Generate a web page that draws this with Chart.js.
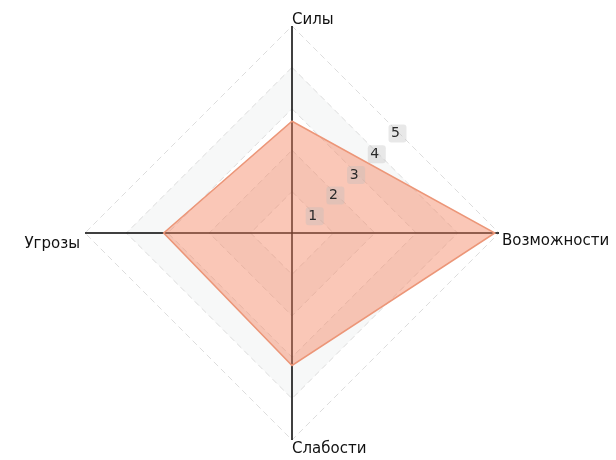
<!DOCTYPE html>
<html>
<head>
<meta charset="utf-8">
<script src="https://cdn.jsdelivr.net/npm/chart.js@4.4.1/dist/chart.umd.min.js"></script>
<style>
  html, body { margin: 0; padding: 0; background: #fff; }
  #wrap { width: 616px; height: 460px; position: relative; }
</style>
</head>
<body>
<div id="wrap"><canvas id="swot"></canvas></div>
<script>
/*
    ДАННЫЕ
*/
const categories = ['Силы', 'Возможности', 'Слабости', 'Угрозы'];
const values = [2.7, 4.9, 3.2, 3.1];
const scaleMin = 0;
const scaleMax = 5;
const bandValues = [1, 2, 3, 4, 5];

/*
    ПЛАГИНЫ
*/
// полосы сетки (через одну) под линиями
const bandsPlugin = {
  id: 'bands',
  beforeDraw(chart) {
    const r = chart.scales.r;
    const ctx = chart.ctx;
    const n = chart.data.labels.length;
    const diamond = (v) => {
      const dist = r.getDistanceFromCenterForValue(v);
      ctx.beginPath();
      for (let i = 0; i < n; i++) {
        const p = r.getPointPosition(i, dist);
        i ? ctx.lineTo(p.x, p.y) : ctx.moveTo(p.x, p.y);
      }
      ctx.closePath();
    };
    ctx.save();
    for (let k = bandValues.length - 1; k >= 0; k--) {
      diamond(bandValues[k]);
      ctx.fillStyle = k % 2 === 1 ? '#f7f8f8' : '#ffffff';
      ctx.fill();
    }
    ctx.restore();
  }
};

// подписи осей и значения шкалы
const labelsPlugin = {
  id: 'swotLabels',
  afterDraw(chart) {
    const r = chart.scales.r;
    const ctx = chart.ctx;
    const outer = r.getDistanceFromCenterForValue(scaleMax);
    ctx.save();
    ctx.font = '15px "DejaVu Sans"';
    ctx.fillStyle = '#111';
    chart.data.labels.forEach((txt, i) => {
      const p = r.getPointPosition(i, outer);
      let x = p.x, y = p.y;
      if (y < r.yCenter - 1) {
        ctx.textAlign = 'left';
        ctx.textBaseline = 'bottom';
        y += 2;
      } else if (y > r.yCenter + 1) {
        ctx.textAlign = 'left';
        ctx.textBaseline = 'top';
        y += 2;
      } else if (x > r.xCenter) {
        ctx.textAlign = 'left';
        ctx.textBaseline = 'top';
        x += 3; y += 1;
      } else {
        ctx.textAlign = 'right';
        ctx.textBaseline = 'top';
        x -= 5; y += 4;
      }
      ctx.fillText(txt, x, y);
    });

    // значения 1..5 по диагонали (середины рёбер ромба)
    ctx.font = '14px "DejaVu Sans"';
    ctx.textAlign = 'center';
    ctx.textBaseline = 'middle';
    r.ticks.forEach((t) => {
      if (t.value === scaleMin) return;
      const dist = r.getDistanceFromCenterForValue(t.value);
      const a = r.getPointPosition(0, dist);
      const b = r.getPointPosition(1, dist);
      const mx = (a.x + b.x) / 2;
      const my = (a.y + b.y) / 2 + 4;
      ctx.fillStyle = 'rgba(190,190,190,0.35)';
      ctx.beginPath();
      ctx.roundRect(mx - 7, my - 9, 18, 18, 3);
      ctx.fill();
      ctx.fillStyle = '#2a2a2a';
      ctx.fillText(t.label, mx, my);
    });
    ctx.restore();
  }
};

/*
    ГРАФИК
*/
const ctx = document.getElementById('swot').getContext('2d');
new Chart(ctx, {
  type: 'radar',
  plugins: [bandsPlugin, labelsPlugin],
  data: {
    labels: categories,
    datasets: [
      {
        data: values,
        backgroundColor: 'rgba(244,130,95,0.45)',
        borderColor: 'rgba(236,150,120,1)',
        borderWidth: 1.5,
        pointRadius: 0,
        pointHoverRadius: 0
      }
    ]
  },
  options: {
    responsive: true,
    maintainAspectRatio: false,
    animation: false,
    layout: {
      padding: { top: 26, bottom: 20, left: 85, right: 117 }
    },
    plugins: {
      legend: { display: false },
      tooltip: { enabled: false }
    },
    scales: {
      r: {
        min: scaleMin,
        max: scaleMax,
        ticks: { stepSize: 1, display: false },
        pointLabels: { display: false },
        grid: { color: '#dddddd', lineWidth: 1 },
        border: { dash: [6, 4] },
        angleLines: { color: '#000', lineWidth: 1.5 }
      }
    }
  }
});
</script>
</body>
</html>
